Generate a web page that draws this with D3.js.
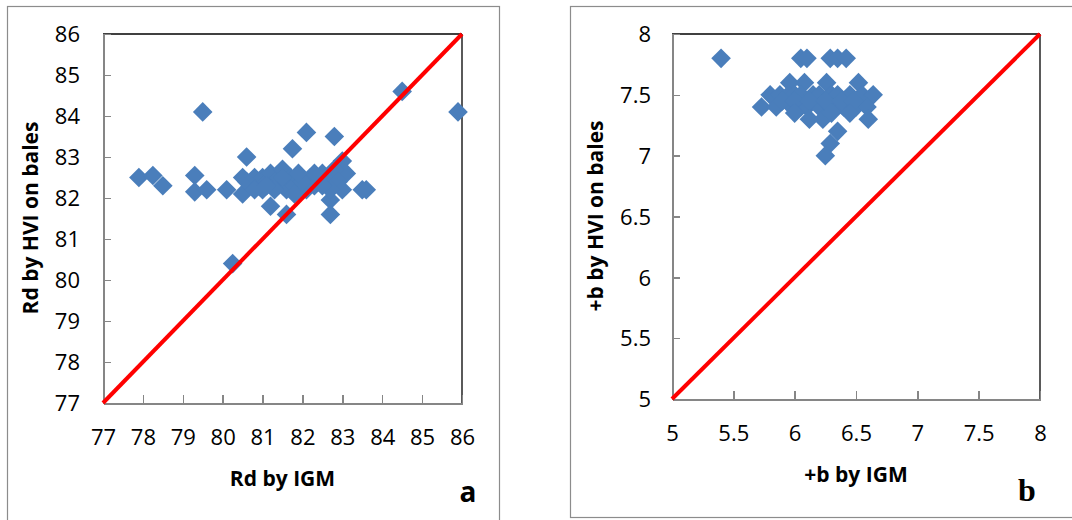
<!DOCTYPE html>
<html>
<head>
<meta charset="utf-8">
<script src="https://cdn.jsdelivr.net/npm/d3@7"></script>
<style>
  html, body { margin: 0; padding: 0; background: #fff; }
  svg { display: block; }
</style>
</head>
<body>
<svg id="chart" width="1072" height="520"></svg>
<script>
// ---- Data: panel a (Rd) ----
const rdIGM = [77.9, 78.25, 78.5, 79.3, 79.3, 79.6, 80.1, 80.5, 80.6, 79.5, 80.25,
  81.2, 81.6, 81.75, 82.1, 82.8, 82.7, 82.7, 83.0, 83.1, 83.6, 83.5, 84.5, 85.9,
  80.5, 80.6, 80.8, 80.9, 81.0, 81.1, 81.2, 81.3, 81.4, 81.5, 81.6, 81.6, 81.7,
  81.8, 81.9, 82.0, 82.1, 82.2, 82.3, 82.4, 82.5, 82.6, 82.8, 82.9, 83.0, 81.0,
  81.3, 81.8, 82.0, 82.7, 80.8, 81.5, 82.3, 81.1, 81.9, 82.5];
const rdHVI = [82.5, 82.55, 82.3, 82.55, 82.15, 82.2, 82.2, 82.1, 83.0, 84.1, 80.4,
  81.8, 81.6, 83.2, 83.6, 83.5, 81.95, 81.6, 82.9, 82.6, 82.2, 82.2, 84.6, 84.1,
  82.5, 82.4, 82.5, 82.3, 82.5, 82.4, 82.6, 82.3, 82.5, 82.7, 82.4, 82.2, 82.5,
  82.3, 82.5, 82.4, 82.2, 82.5, 82.3, 82.4, 82.6, 82.5, 82.7, 82.4, 82.2, 82.2,
  82.2, 82.1, 82.4, 82.2, 82.2, 82.5, 82.6, 82.3, 82.6, 82.3];
const rdTicks = [77, 78, 79, 80, 81, 82, 83, 84, 85, 86];

// ---- Data: panel b (+b) ----
const bIGM = [5.4, 6.05, 6.1, 6.29, 6.35, 6.42,
  5.96, 6.08, 6.26, 6.52,
  5.8, 5.88, 5.95, 6.0, 6.05, 6.15, 6.2, 6.3, 6.35, 6.45, 6.55, 6.64,
  5.73, 5.85, 5.98, 6.05, 6.1, 6.2, 6.3, 6.4, 6.5, 6.59,
  5.9, 6.0, 6.12, 6.25, 6.38, 6.48,
  6.12, 6.23, 6.6, 6.0, 6.3, 6.45,
  6.35, 6.29, 6.25];
const bHVI = [7.8, 7.8, 7.8, 7.8, 7.8, 7.8,
  7.6, 7.6, 7.6, 7.6,
  7.5, 7.5, 7.5, 7.5, 7.5, 7.5, 7.5, 7.5, 7.5, 7.5, 7.5, 7.5,
  7.4, 7.4, 7.4, 7.4, 7.4, 7.4, 7.4, 7.4, 7.4, 7.4,
  7.45, 7.45, 7.45, 7.45, 7.45, 7.45,
  7.3, 7.3, 7.3, 7.35, 7.35, 7.35,
  7.2, 7.1, 7.0];
const bTicks = [5, 5.5, 6, 6.5, 7, 7.5, 8];

const svg = d3.select('#chart');
const FONT = '"Open Sans", "Liberation Sans", sans-serif';
const GRAY = '#868686';
const BLUE = '#4a7ebb';

// outer panel borders
svg.append('rect').attr('x', 7.5).attr('y', 6.5).attr('width', 492).attr('height', 530)
  .attr('fill', 'none').attr('stroke', '#8c8c8c').attr('stroke-width', 1.2);
svg.append('rect').attr('x', 570.5).attr('y', 6.5).attr('width', 520).attr('height', 511)
  .attr('fill', 'none').attr('stroke', '#8c8c8c').attr('stroke-width', 1.2);

function panel(cfg) {
  const x = d3.scaleLinear().domain(cfg.domain).range([cfg.x0, cfg.x1]);
  const y = d3.scaleLinear().domain(cfg.domain).range([cfg.y1, cfg.y0]);
  const g = svg.append('g');

  // top & right frame (black)
  g.append('line').attr('x1', cfg.x0).attr('x2', cfg.x1).attr('y1', cfg.y0).attr('y2', cfg.y0)
    .attr('stroke', '#000').attr('stroke-width', 1.3);
  g.append('line').attr('x1', cfg.x1).attr('x2', cfg.x1).attr('y1', cfg.y0).attr('y2', cfg.y1)
    .attr('stroke', '#000').attr('stroke-width', 1.3);

  // x axis
  const gx = g.append('g').attr('transform', `translate(0,${cfg.y1})`)
    .call(d3.axisBottom(x).tickValues(cfg.ticks).tickSize(-8).tickSizeOuter(0).tickFormat(cfg.fmt));
  gx.select('.domain').attr('stroke', GRAY).attr('stroke-width', 2);
  gx.selectAll('.tick line').attr('stroke', GRAY).attr('stroke-width', 1.5);
  gx.selectAll('.tick text').attr('y', cfg.xLabDy).attr('dy', '0.35em')
    .attr('font-family', FONT).attr('font-size', 22).attr('fill', '#000');

  // y axis
  const gy = g.append('g').attr('transform', `translate(${cfg.x0},0)`)
    .call(d3.axisLeft(y).tickValues(cfg.ticks).tickSize(-8).tickSizeOuter(0).tickFormat(cfg.fmt));
  gy.select('.domain').attr('stroke', GRAY).attr('stroke-width', 2);
  gy.selectAll('.tick line').attr('stroke', GRAY).attr('stroke-width', 1.5);
  gy.selectAll('.tick text').attr('x', -cfg.yLabDx).attr('dy', '0.35em')
    .attr('text-anchor', 'end')
    .attr('font-family', FONT).attr('font-size', 22).attr('fill', '#000');
  g.selectAll('.domain, .tick line').attr('shape-rendering', 'crispEdges');

  // points (diamonds)
  const r = 9.8;
  g.append('g').selectAll('path').data(cfg.xs.map((v, i) => [v, cfg.ys[i]]))
    .join('path')
    .attr('d', `M0,${-r}L${r},0L0,${r}L${-r},0Z`)
    .attr('transform', d => `translate(${x(d[0])},${y(d[1])})`)
    .attr('fill', BLUE);

  // 1:1 line
  g.append('line')
    .attr('x1', x(cfg.domain[0])).attr('y1', y(cfg.domain[0]))
    .attr('x2', x(cfg.domain[1])).attr('y2', y(cfg.domain[1]))
    .attr('stroke', '#ff0000').attr('stroke-width', 4);

  // axis titles
  g.append('text').attr('x', (cfg.x0 + cfg.x1) / 2).attr('y', cfg.xTitleY).attr('dy', '0.35em')
    .attr('text-anchor', 'middle').attr('font-family', FONT).attr('font-weight', 'bold')
    .attr('font-size', 21).text(cfg.xTitle);
  g.append('text')
    .attr('transform', `translate(${cfg.yTitleX},${cfg.yTitleY}) rotate(-90)`)
    .attr('dy', '0.35em')
    .attr('text-anchor', 'middle').attr('font-family', FONT).attr('font-weight', 'bold')
    .attr('font-size', 21).text(cfg.yTitle);

  // panel letter
  g.append('text').attr('x', cfg.letterX).attr('y', cfg.letterY)
    .attr('text-anchor', 'middle').attr('font-family', cfg.letterFont).attr('font-weight', 'bold')
    .attr('font-size', cfg.letterSize).text(cfg.letter);
}

panel({
  domain: [77, 86], ticks: rdTicks, fmt: d3.format('d'),
  x0: 103, x1: 462, y0: 34, y1: 403,
  xLabDy: 34, yLabDx: 23,
  xs: rdIGM, ys: rdHVI,
  xTitle: 'Rd by IGM', xTitleY: 479,
  yTitle: 'Rd by HVI on bales', yTitleX: 31, yTitleY: 218,
  letter: 'a', letterX: 468, letterY: 502, letterFont: FONT, letterSize: 28
});

panel({
  domain: [5, 8], ticks: bTicks, fmt: d => String(d),
  x0: 672, x1: 1040, y0: 34, y1: 399,
  xLabDy: 34, yLabDx: 21,
  xs: bIGM, ys: bHVI,
  xTitle: '+b by IGM', xTitleY: 475,
  yTitle: '+b by HVI on bales', yTitleX: 596, yTitleY: 216,
  letter: 'b', letterX: 1027, letterY: 501, letterFont: '"Liberation Serif", "DejaVu Serif", serif', letterSize: 32
});
</script>
</body>
</html>
